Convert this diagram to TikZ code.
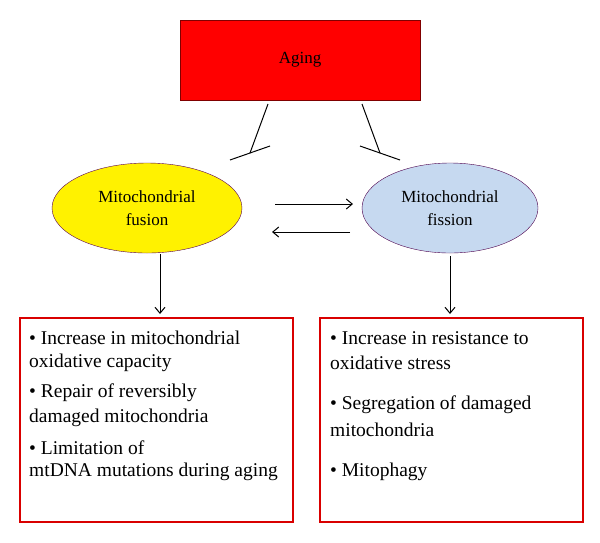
\documentclass[tikz,border=0pt]{standalone}
\usepackage{fontspec}
\setmainfont{Liberation Serif}
\usetikzlibrary{shapes.geometric,arrows.meta}
\begin{document}
\begin{tikzpicture}[x=1pt,y=-1pt,
  txt/.style={font=\fontsize{17}{19}\selectfont},
  btxt/.style={font=\fontsize{19.5}{22}\selectfont},
  res/.style={draw=red!85!black,line width=1.2pt},
  arr/.style={-{Straight Barb[length=6pt,width=10pt]},line width=1pt}]
\useasboundingbox (0,0) rectangle (600,542);
\node[draw=red!50!black,fill=red,minimum width=240,minimum height=80,inner sep=0,txt] (aging) at (300,60) {Aging};
\node[ellipse,draw=violet!70!black,fill=yellow,minimum width=190,minimum height=90,align=center,txt] (fus) at (147,208) {Mitochondrial\\[4pt]fusion};
\node[ellipse,draw=violet!60!black,fill={rgb,255:red,198;green,217;blue,240},minimum width=176,minimum height=90,align=center,txt] (fis) at (450,208) {Mitochondrial\\[4pt]fission};
\coordinate (a1) at (268,104); \coordinate (b1) at (250,153);
\coordinate (a2) at (362,104); \coordinate (b2) at (380,153);
\draw[line width=1pt] (a1)--(b1); \draw[line width=1pt] (230,160)--(270,146);
\draw[line width=1pt] (a2)--(b2); \draw[line width=1pt] (360,146)--(400,160);
\coordinate (r1) at (275,204); \coordinate (r2) at (353,204);
\coordinate (l1) at (350,232); \coordinate (l2) at (272,232);
\draw[arr] (r1)--(r2); \draw[arr] (l1)--(l2);
\node[res,minimum width=273,minimum height=204,inner sep=0] (lb) at (156.5,420) {};
\node[res,minimum width=263,minimum height=204,inner sep=0] (rb) at (451.5,420) {};
\draw[arr] (160,254)--(160,314);
\draw[arr] (450,256)--(450,314);
\begin{scope}[every node/.style={btxt,anchor=west,inner sep=0}]
\node (t1) at (29,338) {• Increase in mitochondrial};
\node (t2) at (29,363) {oxidative capacity};
\node (t3) at (29,393) {• Repair of reversibly};
\node (t4) at (29,418) {damaged mitochondria};
\node (t5) at (29,448) {• Limitation of};
\node (t6) at (29,472) {mtDNA mutations during aging};
\node (u1) at (330,338) {• Increase in resistance to};
\node (u2) at (330,363) {oxidative stress};
\node (u3) at (330,405) {• Segregation of damaged};
\node (u4) at (330,430) {mitochondria};
\node (u5) at (330,472) {• Mitophagy};
\end{scope}
\end{tikzpicture}
\end{document}
